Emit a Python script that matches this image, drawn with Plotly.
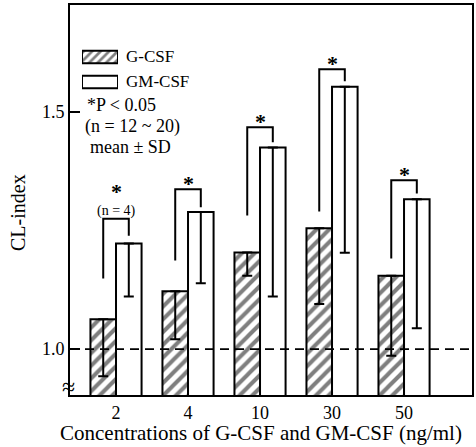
import plotly.graph_objects as go

# ---------------- data ----------------
concentrations = ["2", "4", "10", "30", "50"]
gcsf_mean = [1.063, 1.122, 1.204, 1.255, 1.155]
gcsf_sd = [0.120, 0.101, 0.049, 0.160, 0.169]
gmcsf_mean = [1.223, 1.289, 1.425, 1.553, 1.316]
gmcsf_sd = [0.112, 0.150, 0.314, 0.350, 0.272]
bracket_top = [1.275, 1.337, 1.468, 1.590, 1.356]
bracket_left_bottom = [1.149, 1.187, 1.282, 1.290, 1.191]
bracket_right_bottom = [1.239, 1.299, 1.436, 1.565, 1.328]
baseline = 1.0
y_tickvals = [1.0, 1.5]
y_ticktext = ["1.0", "1.5"]

FONT = "Liberation Serif"
x = list(range(len(concentrations)))
half = 0.1775  # half distance between bar centres within a group

fig = go.Figure()

fig.add_trace(go.Bar(
    x=x, y=gcsf_mean, name="G-CSF", showlegend=False,
    marker=dict(color="white", line=dict(color="black", width=2),
                pattern=dict(shape="/", fgcolor="black", bgcolor="white", size=9, solidity=0.45)),
    error_y=dict(type="data", symmetric=False, array=[0] * 5, arrayminus=gcsf_sd,
                 color="black", thickness=2, width=5),
))
fig.add_trace(go.Bar(
    x=x, y=gmcsf_mean, name="GM-CSF", showlegend=False,
    marker=dict(color="white", line=dict(color="black", width=2)),
    error_y=dict(type="data", symmetric=False, array=[0] * 5, arrayminus=gmcsf_sd,
                 color="black", thickness=2, width=5),
))

# significance brackets
bx, by = [], []
for i in x:
    bx += [i - half, i - half, i + half, i + half, None]
    by += [bracket_left_bottom[i], bracket_top[i], bracket_top[i], bracket_right_bottom[i], None]
fig.add_trace(go.Scatter(x=bx, y=by, mode="lines", line=dict(color="black", width=2),
                         showlegend=False, hoverinfo="skip"))

# baseline dashed line
fig.add_shape(type="line", xref="paper", x0=0, x1=1, yref="y", y0=baseline, y1=baseline,
              line=dict(color="black", width=1.8, dash="9px,6px"))

# stars
for i in x:
    fig.add_annotation(x=i, y=bracket_top[i], text="<b>*</b>", showarrow=False, yanchor="middle",
                       font=dict(family=FONT, size=22, color="black"), yshift=6 if i else 27)
fig.add_annotation(x=0, y=bracket_top[0], text="(n = 4)", showarrow=False, yanchor="middle",
                   font=dict(family=FONT, size=14, color="black"), yshift=8)

# legend swatches drawn as bars on an inset axis
fig.add_trace(go.Bar(x=[1], y=[1], orientation="h", xaxis="x2", yaxis="y2", width=0.5,
                     showlegend=False, hoverinfo="skip",
                     marker=dict(color="white", line=dict(color="black", width=2),
                                 pattern=dict(shape="/", fgcolor="black", bgcolor="white", size=6, solidity=0.45))))
fig.add_trace(go.Bar(x=[1], y=[0], orientation="h", xaxis="x2", yaxis="y2", width=0.5,
                     showlegend=False, hoverinfo="skip",
                     marker=dict(color="white", line=dict(color="black", width=2))))

W, H = 476, 447
L, R, T, B = 70, 4, 5, 52
def px(xp):
    return (xp - L) / (W - L - R)
def py(yp):
    return (H - B - yp) / (H - T - B)

legend_texts = [("G-CSF", 124, 57, 17), ("GM-CSF", 124, 82, 17), ("*P < 0.05", 85, 105, 18),
                ("(n = 12 ~ 20)", 83, 126, 18), ("mean ± SD", 88, 147, 18)]
for t, xx, yy, fs in legend_texts:
    fig.add_annotation(xref="paper", yref="paper", x=px(xx), y=py(yy), text=t, showarrow=False,
                       xanchor="left", yanchor="middle",
                       font=dict(family=FONT, size=fs, color="black"))

# axis break symbol
fig.add_annotation(xref="paper", yref="paper", x=px(68), y=py(387), text="≈", showarrow=False,
                   xanchor="center", yanchor="middle",
                   font=dict(family=FONT, size=24, color="black"))

# axis titles
fig.add_annotation(xref="paper", yref="paper", x=px(261), y=py(433),
                   text="Concentrations of G-CSF and GM-CSF (ng/ml)", showarrow=False,
                   xanchor="center", yanchor="middle",
                   font=dict(family=FONT, size=21, color="black"))
fig.add_annotation(xref="paper", yref="paper", x=px(18), y=py(213), text="CL-index",
                   showarrow=False, textangle=-90, xanchor="center", yanchor="middle",
                   font=dict(family=FONT, size=20, color="black"))

fig.update_layout(
    width=W, height=H, margin=dict(l=L, r=R, t=T, b=B, autoexpand=False),
    paper_bgcolor="white", plot_bgcolor="white",
    barmode="group", bargap=0.29, bargroupgap=0,
    showlegend=False,
    xaxis=dict(range=[-0.639, 4.944], tickvals=x, ticktext=concentrations, ticks="",
               showline=True, mirror=True, linecolor="black", linewidth=2, showgrid=False,
               zeroline=False, automargin=False, tickfont=dict(family=FONT, size=18, color="black")),
    yaxis=dict(range=[0.9034, 1.7255], tickvals=y_tickvals, ticktext=y_ticktext,
               ticks="inside", ticklen=10, tickwidth=2, tickcolor="black",
               showline=True, mirror=True, linecolor="black", linewidth=2, showgrid=False,
               zeroline=False, automargin=False, tickfont=dict(family=FONT, size=18, color="black")),
    xaxis2=dict(domain=[px(82), px(118)], range=[0, 1], anchor="y2", visible=False, fixedrange=True),
    yaxis2=dict(domain=[py(94.5), py(44.5)], range=[-0.5, 1.5], anchor="x2", visible=False, fixedrange=True),
)

fig.write_html("out.html", config={"displayModeBar": False},
               post_script="document.body.style.margin='0';document.body.style.padding='0';")
